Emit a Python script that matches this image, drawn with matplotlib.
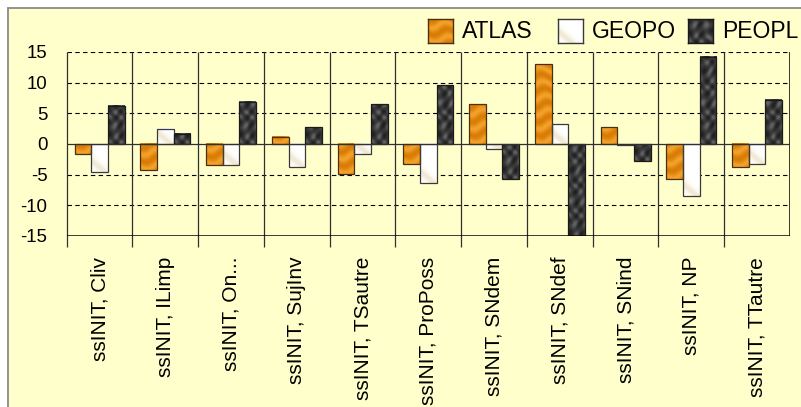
import numpy as np
import matplotlib.pyplot as plt
from matplotlib.patches import Rectangle
from matplotlib.colors import LinearSegmentedColormap

categories = ["ssINIT, Cliv", "ssINIT, ILimp", "ssINIT, On...", "ssINIT, SujInv",
              "ssINIT, TSautre", "ssINIT, ProPoss", "ssINIT, SNdem", "ssINIT, SNdef",
              "ssINIT, SNind", "ssINIT, NP", "ssINIT, TTautre"]
atlas = [-1.6, -4.3, -3.5, 1.2, -4.9, -3.2, 6.5, 13.0, 2.7, -5.7, -3.8]
geopo = [-4.5, 2.5, -3.4, -3.8, -1.7, -6.4, -0.8, 3.2, -0.15, -8.5, -3.3]
peopl = [6.2, 1.7, 6.9, 2.7, 6.5, 9.6, -5.7, -16.0, -2.7, 14.2, 7.2]
series_names = ["ATLAS", "GEOPO", "PEOPL"]
yticks = [-15, -10, -5, 0, 5, 10, 15]

colors = ["#E8900E", "#FFFFFF", "#3E3E3E"]
edges = ["#4A3010", "#3A3A3A", "#1A1A1A"]
panel = "#FFFFCC"

# texture colour ramps (wood, marble, granite)
cmaps = [LinearSegmentedColormap.from_list("wood", ["#D27606", "#E68C10", "#F6AA38"]),
         LinearSegmentedColormap.from_list("marble", ["#FFFFFF", "#FBF8F0", "#EADFC4"]),
         LinearSegmentedColormap.from_list("granite", ["#1C1C1C", "#3C3C3C", "#767676"])]


def texture(kind, h, w):
    yy, xx = np.mgrid[0:max(h, 2), 0:max(w, 2)].astype(float)
    if kind == 0:
        t = 0.5 + 0.35 * np.sin(yy * 0.45 + 1.4 * np.sin(xx * 0.22 + yy * 0.05))
        return t
    if kind == 1:
        t = np.sin(xx * 0.12 + yy * 0.07 + 1.5 * np.sin(yy * 0.05))
        return 0.8 * np.clip(t, 0, 1) ** 2
    t = 0.5 * np.sin(xx * 0.55 + yy * 0.3 + 1.5 * np.sin(yy * 0.22)) \
        + 0.5 * np.sin(yy * 0.5 - xx * 0.35 + 1.2 * np.sin(xx * 0.3))
    return 0.45 + 0.4 * t


plt.rcParams['font.family'] = ['Liberation Sans', 'DejaVu Sans']

fig = plt.figure(figsize=(8.01, 4.07), dpi=100)
W, H = 801, 407

# pale yellow chart panel, cropped at right and bottom
fig.patches.append(Rectangle((8 / W, -0.1), 1.2, 1.1 - 8 / H, transform=fig.transFigure,
                             facecolor=panel, edgecolor="#8A8A8A", linewidth=1.3, zorder=-10))

ax = fig.add_axes([66.7 / W, 1 - 236 / H, (790 - 66.7) / W, (236 - 52) / H])
ax.set_facecolor(panel)
ax.set_xlim(-0.5, len(categories) - 0.5)
ax.set_ylim(-15, 15)
px_per_unit = (236 - 52) / 30

x = np.arange(len(categories))
w = 0.253
for k, vals in enumerate([atlas, geopo, peopl]):
    bars = ax.bar(x + (k - 1) * w, vals, w, color=colors[k], edgecolor="none", zorder=3)
    for b, v in zip(bars, vals):
        lo, hi = min(0, v), max(0, v)
        im = ax.imshow(texture(k, int(abs(v) * px_per_unit) + 1, 17), cmap=cmaps[k],
                       vmin=0, vmax=1, origin="lower", aspect="auto", interpolation="bilinear",
                       extent=[b.get_x(), b.get_x() + w, lo, hi], zorder=3.2)
        im.set_clip_path(b)
        im.set_clip_box(ax.bbox)
    ax.bar(x + (k - 1) * w, vals, w, fill=False, edgecolor=edges[k], linewidth=0.9, zorder=3.4)

ax.set_xlim(-0.5, len(categories) - 0.5)
ax.set_ylim(-15, 15)

# dashed horizontal gridlines
for yv in [5, 10, 15, -5, -10]:
    ax.axhline(yv, color="black", lw=0.8, ls=(0, (4, 3)), zorder=1)
ax.axhline(0, color="#303030", lw=0.9, zorder=4)

# category separators with tick marks below the axis
bounds = np.arange(len(categories)) - 0.5
ax.vlines(bounds, -16.8, 15, colors="#303030", lw=0.9, clip_on=False, zorder=2)
ax.vlines([len(categories) - 0.5], -15, 15, colors="black", lw=1.1, zorder=2)
ax.axhline(-15, color="black", lw=1.8, zorder=5)

for s in ax.spines.values():
    s.set_visible(False)

ax.set_yticks(yticks)
ax.set_yticklabels([str(v) for v in yticks], fontsize=13.4)
ax.tick_params(axis="y", length=0, pad=14)

ax.set_xticks(x)
ax.set_xticklabels(categories, rotation=90, fontsize=15, va="top", ha="center")
ax.tick_params(axis="x", length=0, pad=15)

# legend: equal-width entries like the original
for k, name in enumerate(series_names):
    x0 = 428 + 130 * k
    lax = fig.add_axes([x0 / W, 1 - 43 / H, 25 / W, 24 / H])
    lax.imshow(texture(k, 24, 25), cmap=cmaps[k], vmin=0, vmax=1, origin="lower",
               aspect="auto", interpolation="bilinear")
    lax.set_xticks([])
    lax.set_yticks([])
    for s in lax.spines.values():
        s.set_edgecolor(edges[k])
        s.set_linewidth(1.0)
    fig.text((x0 + 34) / W, 1 - 31 / H, name, fontsize=16.5, va="center", ha="left")

fig.savefig("out.png", dpi=100, facecolor="white")
